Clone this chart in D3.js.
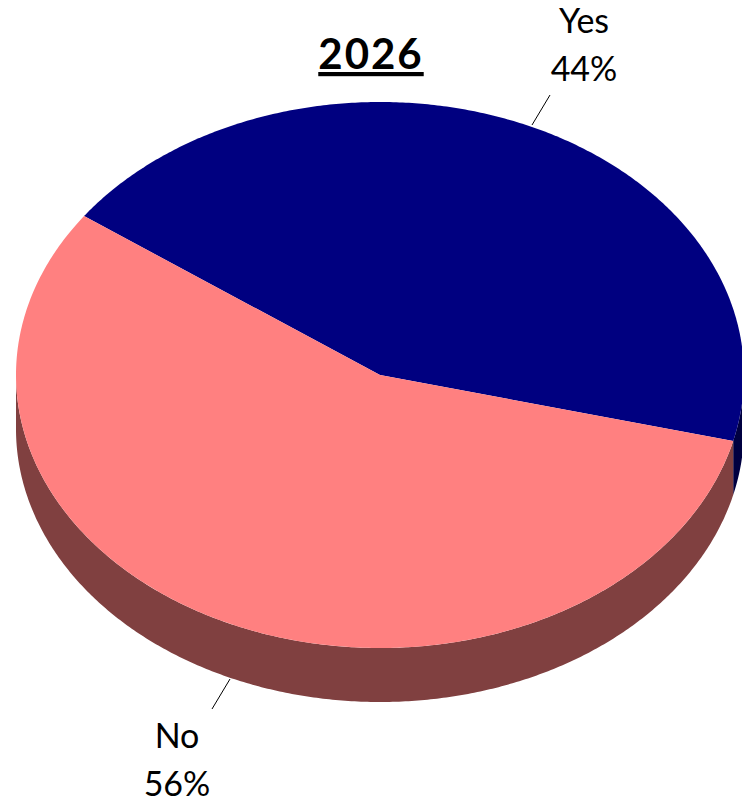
<!DOCTYPE html>
<html>
<head>
<meta charset="utf-8">
<script src="https://cdn.jsdelivr.net/npm/d3@7"></script>
<style>
  body { margin: 0; background: #fff; }
  text { font-family: Lato, "Open Sans", sans-serif; fill: #000; }
</style>
</head>
<body>
<svg id="chart" width="742" height="803"></svg>
<script>
var title = "2026";
var categories = ["Yes", "No"];
var values = [44, 56];
var topColors = ["#000080", "#ff8080"];
var sideColors = ["#000040", "#804040"];

var svg = d3.select("#chart");
var cx = 380, cy = 375, rx = 364, ry = 273, depth = 54;
var deg = Math.PI / 180;

// midpoint of the first slice sits at about 24.5 deg (clockwise from 12 o'clock)
var firstSpan = values[0] / d3.sum(values) * 2 * Math.PI;
var start = 24.8 * deg - firstSpan / 2;

var pie = d3.pie().sort(null).value(d => d).startAngle(start).endAngle(start + 2 * Math.PI);
var arcs = pie(values);

function pt(a, dy) {
  return [cx + rx * Math.sin(a), cy - ry * Math.cos(a) + (dy || 0)];
}
function arcPts(a0, a1, dy) {
  var n = Math.max(2, Math.ceil((a1 - a0) / (0.5 * deg)));
  return d3.range(n + 1).map(i => pt(a0 + (a1 - a0) * i / n, dy));
}
var line = d3.line();

// side walls (only front half, 90..270 deg)
var sides = svg.append("g");
arcs.forEach(function (d, i) {
  [0, 2 * Math.PI, -2 * Math.PI].forEach(function (off) {
    var a0 = Math.max(d.startAngle + off, Math.PI / 2);
    var a1 = Math.min(d.endAngle + off, 3 * Math.PI / 2);
    if (a1 > a0) {
      var p = arcPts(a0, a1, 0).concat(arcPts(a0, a1, depth).reverse());
      sides.append("path")
        .attr("d", line(p) + "Z")
        .attr("fill", sideColors[i]);
    }
  });
});

// top faces
var tops = svg.append("g");
arcs.forEach(function (d, i) {
  var p = [[cx, cy]].concat(arcPts(d.startAngle, d.endAngle, 0));
  tops.append("path")
    .attr("d", line(p) + "Z")
    .attr("fill", topColors[i]);
});

// title
svg.append("text")
  .attr("x", 371).attr("y", 69)
  .attr("text-anchor", "middle")
  .style("font-size", "42px")
  .style("font-weight", "bold")
  .style("letter-spacing", "2px")
  .style("text-decoration", "underline")
  .text(title);

// labels with leader lines
var labelPos = [
  { x: 584, y1: 33, y2: 81, l: [[532, 125], [550, 95]] },
  { x: 177, y1: 748, y2: 796, l: [[230, 679], [212, 709]] }
];
arcs.forEach(function (d, i) {
  var lp = labelPos[i];
  svg.append("path")
    .attr("d", line(lp.l))
    .attr("stroke", "#000").attr("stroke-width", 1).attr("fill", "none");
  svg.append("text").attr("x", lp.x).attr("y", lp.y1)
    .attr("text-anchor", "middle").style("font-size", "34px")
    .text(categories[i]);
  svg.append("text").attr("x", lp.x).attr("y", lp.y2)
    .attr("text-anchor", "middle").style("font-size", "34px")
    .text(Math.round(d.value / d3.sum(values) * 100) + "%");
});
</script>
</body>
</html>
